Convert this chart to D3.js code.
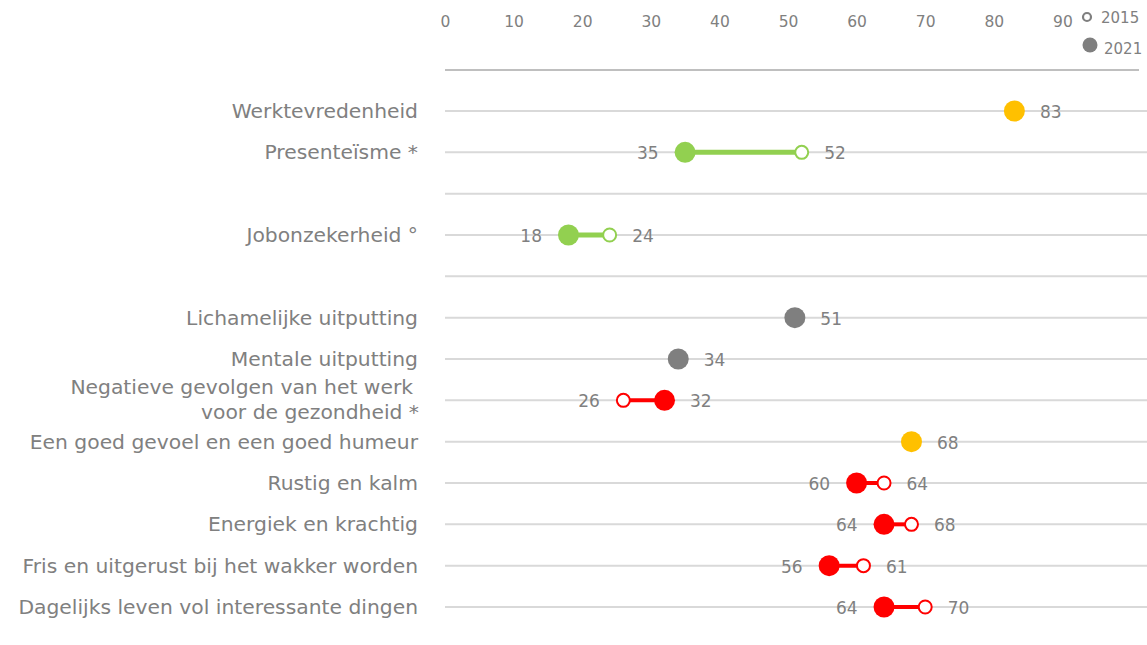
<!DOCTYPE html>
<html><head><meta charset="utf-8">
<script src="https://cdn.jsdelivr.net/npm/d3@7"></script>
<style>
body{margin:0;background:#fff;}
svg{font-family:"Century Gothic","DejaVu Sans",sans-serif;}
</style></head>
<body><svg id="c" width="1147" height="645"></svg>
<script>
const categories = ["Werktevredenheid","Presenteïsme *","","Jobonzekerheid °","","Lichamelijke uitputting","Mentale uitputting","Negatieve gevolgen van het werk |voor de gezondheid *","Een goed gevoel en een goed humeur","Rustig en kalm","Energiek en krachtig","Fris en uitgerust bij het wakker worden","Dagelijks leven vol interessante dingen"];
const values2021 = [83,35,null,18,null,51,34,32,68,60,64,56,64];
const values2015 = [null,52,null,24,null,null,null,26,null,64,68,61,70];
const status = ["good","better",null,"better",null,"neutral","neutral","worse","good","worse","worse","worse","worse"];
const ticks = [0,10,20,30,40,50,60,70,80,90];
const legendYears = ["2015","2021"];

const colorOf = {good:"#FFC000",better:"#92D050",neutral:"#7F7F7F",worse:"#FF0000"};
const FF = '"Century Gothic","DejaVu Sans",sans-serif';
const svg = d3.select("#c");
const x = d3.scaleLinear().domain([0,100]).range([445,1131]);
const y = d3.scalePoint().domain(d3.range(categories.length)).range([111,607]);
const txt = "#808080";

// axis
const ax = svg.append("g").attr("transform","translate(0,70)")
  .call(d3.axisTop(x).tickValues(ticks).tickSize(0).tickPadding(43).tickFormat(d3.format("d")))
  .attr("font-family",FF).attr("font-size",15);
ax.select(".domain").remove();
ax.append("line").attr("x1",445).attr("x2",1139).attr("stroke","#BFBFBF").attr("stroke-width",2);
ax.selectAll(".tick text").attr("fill",txt).style("font-size","15.5px");

// grid
svg.append("g").selectAll("line").data(categories).join("line")
  .attr("x1",445).attr("x2",1147).attr("y1",(d,i)=>y(i)).attr("y2",(d,i)=>y(i))
  .attr("stroke","#D9D9D9").attr("stroke-width",2);

// category labels
const lab = svg.append("g").attr("fill","#808080").attr("font-size",20.3).attr("text-anchor","end");
categories.forEach((c,i)=>{
  if(!c) return;
  const parts=c.split("|");
  if(parts.length===1){
    lab.append("text").attr("x",418).attr("y",y(i)+7).text(c);
  } else {
    lab.append("text").attr("x",413).attr("y",y(i)-6).text(parts[0].trim());
    lab.append("text").attr("x",419).attr("y",y(i)+19).text(parts[1]);
  }
});

// dumbbells
const rows = categories.map((c,i)=>({i,a:values2021[i],b:values2015[i],s:status[i]})).filter(d=>d.a!=null);
const g = svg.append("g");
rows.forEach(d=>{
  const col = colorOf[d.s], cy=y(d.i);
  if(d.b!=null){
    g.append("line").attr("x1",x(d.a)).attr("x2",x(d.b)).attr("y1",cy).attr("y2",cy)
      .attr("stroke",col).attr("stroke-width",d.s==="better"?5:4);
    g.append("circle").attr("cx",x(d.b)).attr("cy",cy).attr("r",6.5).attr("fill","#fff").attr("stroke",col).attr("stroke-width",2);
  }
  g.append("circle").attr("cx",x(d.a)).attr("cy",cy).attr("r",10.5).attr("fill",col);
  const pts=[{v:d.a,r:10.5}]; if(d.b!=null) pts.push({v:d.b,r:7.5});
  pts.sort((p,q)=>p.v-q.v);
  pts.forEach((p,k)=>{
    const right = (k===pts.length-1);
    g.append("text").attr("x",right?x(p.v)+p.r+15:x(p.v)-p.r-16).attr("y",cy+7)
      .attr("text-anchor",right?"start":"end").attr("fill","#808080").attr("font-size",17).text(p.v);
  });
});

// legend
const lg = svg.append("g");
lg.append("circle").attr("cx",1087).attr("cy",17).attr("r",4).attr("fill","#fff").attr("stroke","#7F7F7F").attr("stroke-width",2.2);
lg.append("text").attr("x",1101).attr("y",23).attr("fill",txt).attr("font-size",15).text(legendYears[0]);
lg.append("circle").attr("cx",1090).attr("cy",45).attr("r",7.5).attr("fill","#7F7F7F");
lg.append("text").attr("x",1104).attr("y",54).attr("fill",txt).attr("font-size",15).text(legendYears[1]);
</script></body></html>
